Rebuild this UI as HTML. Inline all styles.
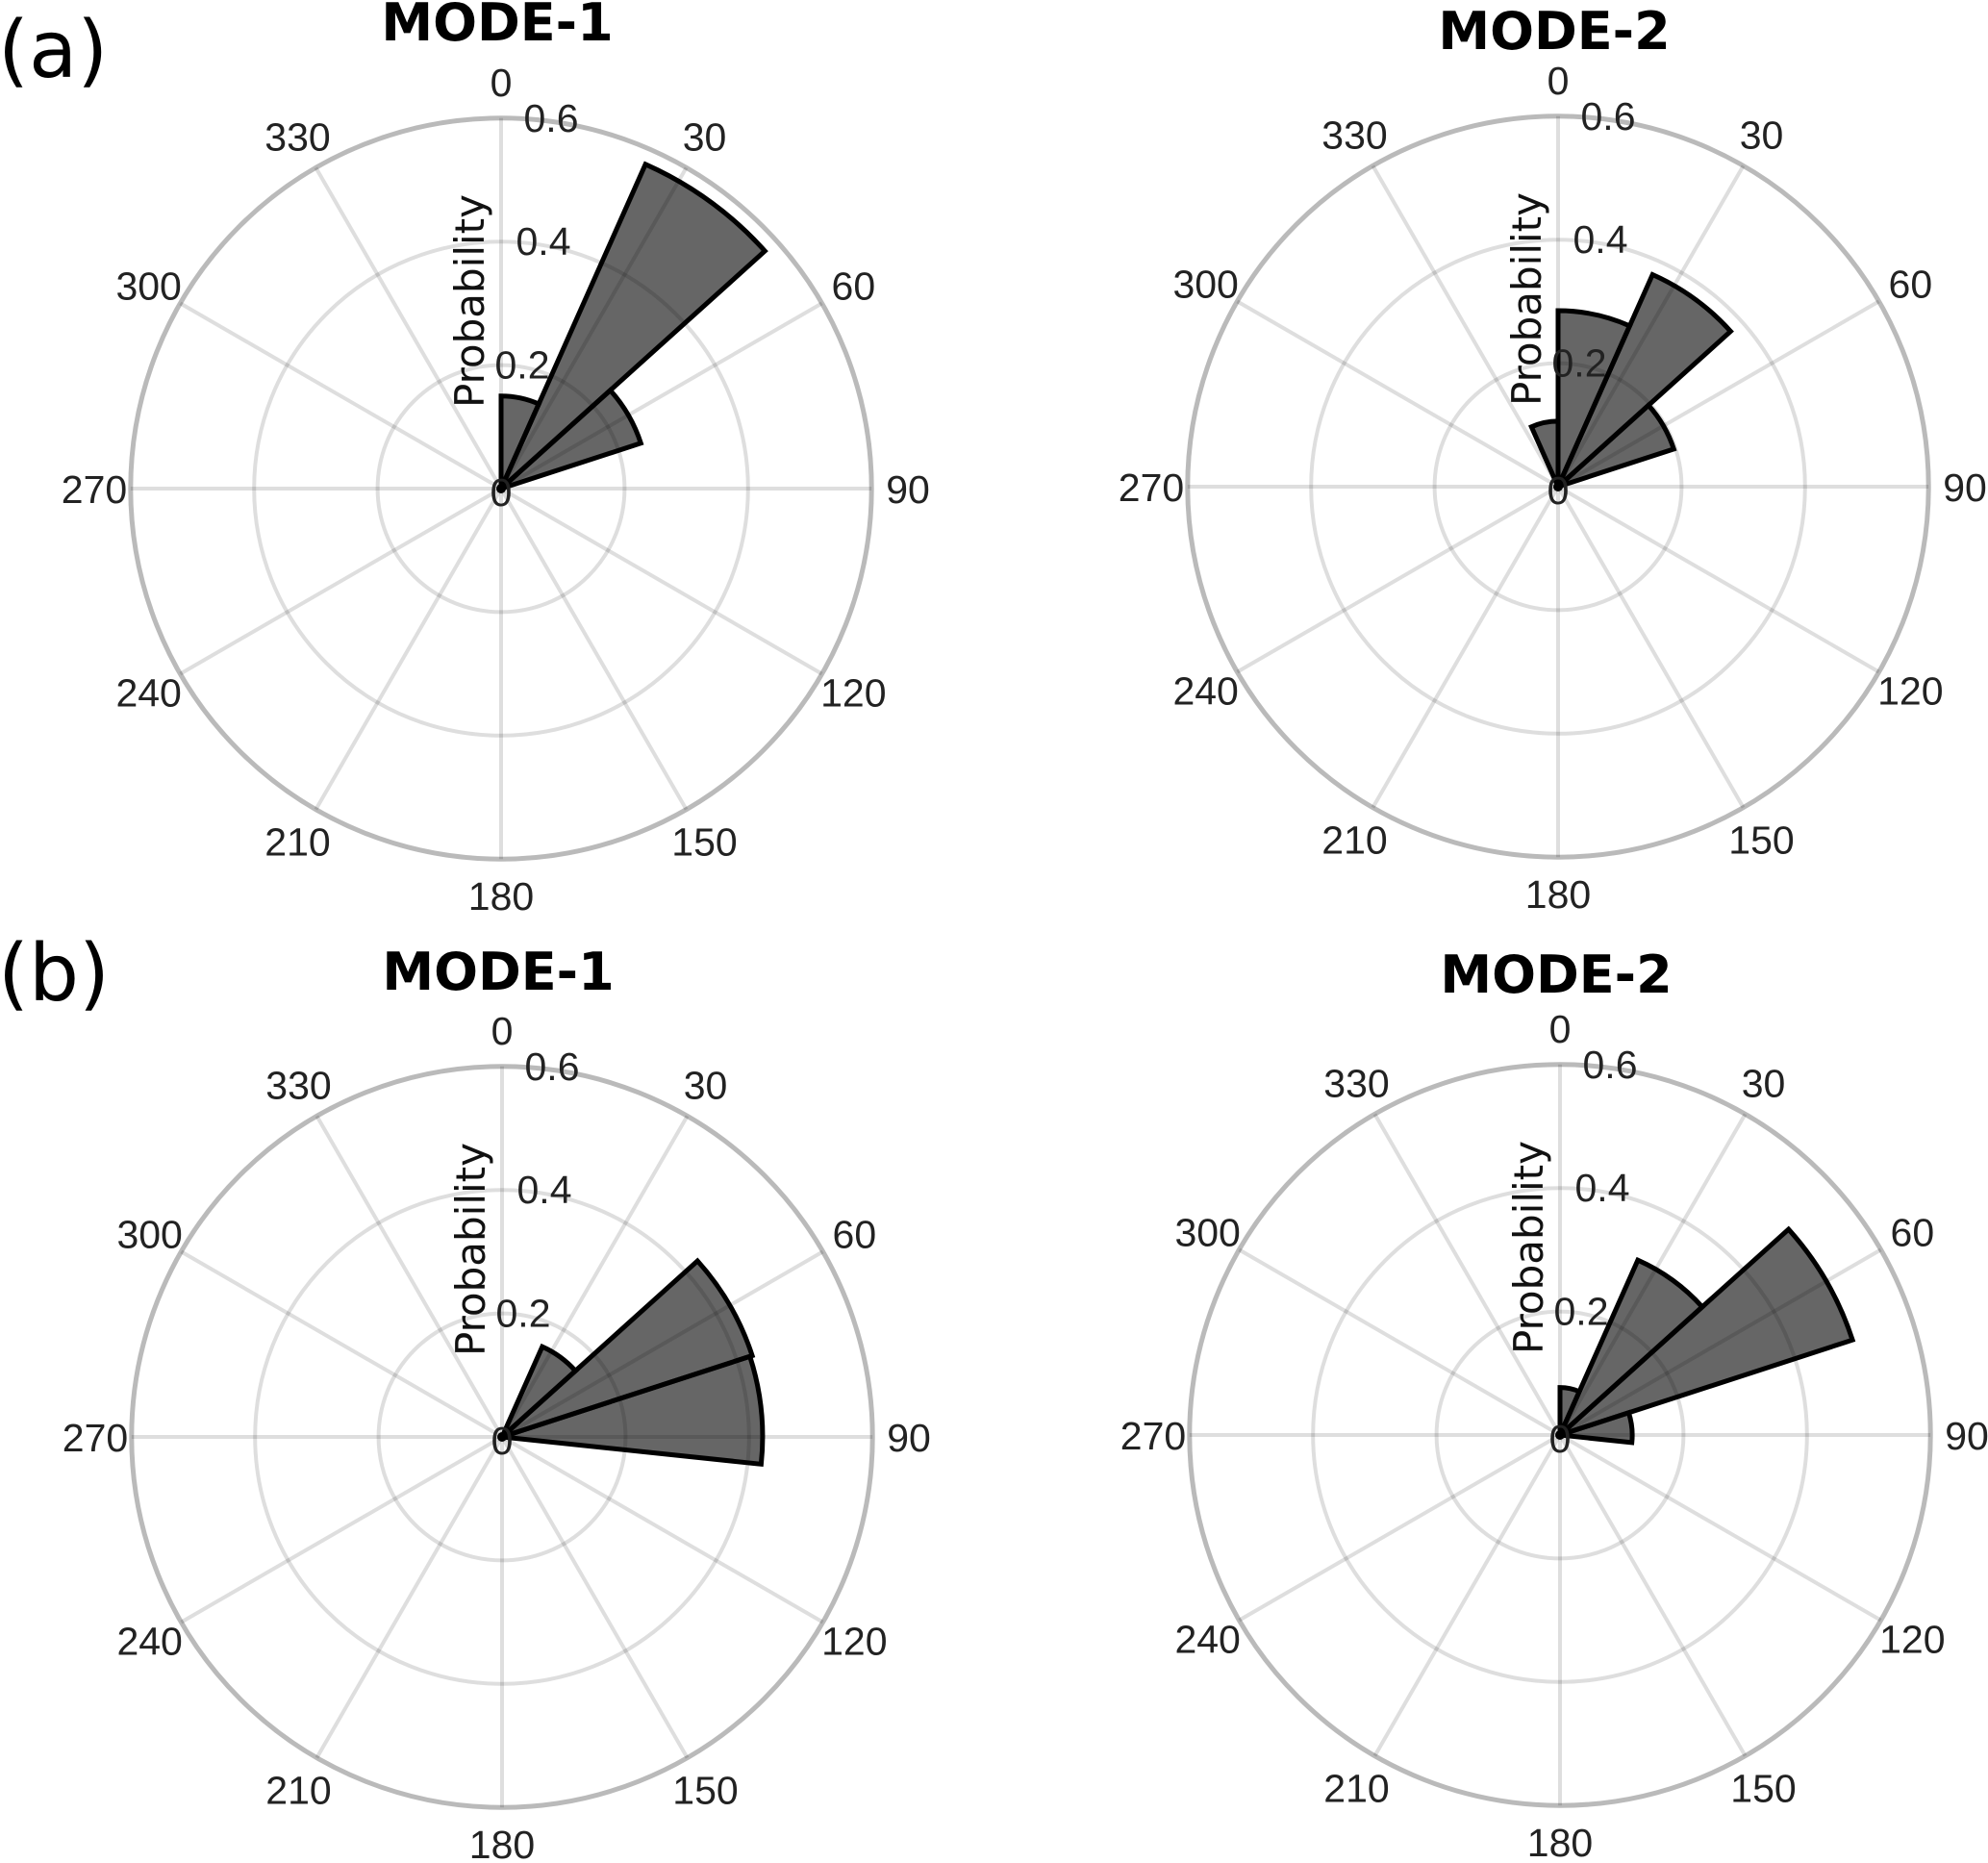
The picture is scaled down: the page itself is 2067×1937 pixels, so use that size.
<!DOCTYPE html>
<html><head><meta charset="utf-8">
<style>
html,body{margin:0;padding:0;background:#fff;}
svg{display:block;}
</style></head>
<body>
<svg id="fig" width="2067" height="1937" viewBox="0 0 2067 1937" xmlns="http://www.w3.org/2000/svg">
<rect width="2067" height="1937" fill="#fff"/>
<text x="-2" y="80" font-family="DejaVu Sans, sans-serif" font-size="82" fill="#000">(a)</text>
<text x="-2" y="1040" font-family="DejaVu Sans, sans-serif" font-size="82" fill="#000">(b)</text>
</svg>
<script>
// bin edges are 24 degrees wide; bins indexed from 0 deg clockwise
const binWidthDeg = 24;
const angleTicks = [0,30,60,90,120,150,180,210,240,270,300,330];
const radialTicks = [0.2,0.4];
const radialTickLabels = ["0.2","0.4","0.6"];
const radialLabelValues = [0.2,0.4,0.6];
// per-panel bin start angles (deg) and probabilities
const aMode1Bins = [0,24,48];
const aMode1Values = [0.15,0.575,0.238];
const aMode2Bins = [-24,0,24,48];
const aMode2Values = [0.106,0.285,0.376,0.197];
const bMode1Bins = [24,48,72];
const bMode1Values = [0.16,0.426,0.422];
const bMode2Bins = [0,24,48,72];
const bMode2Values = [0.077,0.31,0.498,0.117];

const NS = 'http://www.w3.org/2000/svg';
const svg = document.getElementById('fig');
const SCALE = 642; // px per probability unit
const RMAX = 0.6;
const OUTER = RMAX*SCALE;
function mk(tag, attrs, parent){const e=document.createElementNS(NS,tag);for(const k in attrs)e.setAttribute(k,attrs[k]);(parent||svg).appendChild(e);return e;}
function pt(cx,cy,r,deg){const a=deg*Math.PI/180;return [cx+r*Math.sin(a), cy-r*Math.cos(a)];}
function rScale(v){return v*SCALE;}

function panel(id, title, cx, cy, titleY, bins, values){
  const g = mk('g',{});
  
  
  radialTicks.forEach((t,i)=>{
    const c = mk('circle',{cx:cx,cy:cy,r:rScale(t),fill:'none',stroke:'#000','stroke-opacity':0.13,'stroke-width':4},g);
    
    
  });
  angleTicks.forEach(a=>{
    const p = pt(cx,cy,OUTER,a);
    const l = mk('line',{x1:cx,y1:cy,x2:p[0],y2:p[1],stroke:'#000','stroke-opacity':0.13,'stroke-width':4},g);
    
    
  });
  const oc = mk('circle',{cx:cx,cy:cy,r:OUTER,fill:'none',stroke:'#000','stroke-opacity':0.27,'stroke-width':5},g);
  
  
  bins.forEach((b,i)=>{
    const r = rScale(values[i]);
    const p1 = pt(cx,cy,r,b), p2 = pt(cx,cy,r,b+binWidthDeg);
    const d = 'M'+cx+','+cy+' L'+p1[0].toFixed(1)+','+p1[1].toFixed(1)+' A'+r.toFixed(1)+','+r.toFixed(1)+' 0 0 1 '+p2[0].toFixed(1)+','+p2[1].toFixed(1)+' Z';
    const bar = mk('path',{d:d,fill:'rgba(0,0,0,0.6)',stroke:'#000','stroke-width':5,'stroke-linejoin':'miter'},g);
    
    
  });
  mk('circle',{cx:cx,cy:cy,r:5,fill:'#000'},g);
  angleTicks.forEach(a=>{
    const p = pt(cx,cy,423,a);
    const t = mk('text',{x:p[0],y:p[1]+15,'text-anchor':'middle','font-family':'Liberation Sans, Arial, sans-serif','font-size':41,fill:'#222'},g);
    t.textContent = String(a);
    
    
  });
  radialLabelValues.forEach((v,i)=>{
    const r = rScale(v);
    const dx = [22,44,52][i];
    const t = mk('text',{x:cx+dx,y:cy-r+14,'text-anchor':'middle','font-family':'Liberation Sans, Arial, sans-serif','font-size':41,fill:'#222'},g);
    t.textContent = radialTickLabels[i];
    
    
  });
  const z = mk('text',{x:cx,y:cy+18,'text-anchor':'middle','font-family':'Liberation Sans, Arial, sans-serif','font-size':41,fill:'#222'},g);
  z.textContent='0';
  
  
  const yt = mk('text',{x:0,y:0,'text-anchor':'middle','font-family':'DejaVu Sans, sans-serif','font-size':42,fill:'#111',transform:'translate('+(cx-18)+','+(cy-195)+') rotate(-90)'},g);
  yt.textContent='Probability';
  
  
  const tt = mk('text',{x:cx-4,y:titleY,'text-anchor':'middle','font-family':'DejaVu Sans, sans-serif','font-weight':'bold','font-size':54,fill:'#000'},g);
  tt.textContent=title;
  
  
}
panel('a-mode1','MODE-1',521,508,42,aMode1Bins,aMode1Values);
panel('a-mode2','MODE-2',1620,506,51,aMode2Bins,aMode2Values);
panel('b-mode1','MODE-1',522,1494,1029,bMode1Bins,bMode1Values);
panel('b-mode2','MODE-2',1622,1492,1032,bMode2Bins,bMode2Values);
</script>
</body></html>
